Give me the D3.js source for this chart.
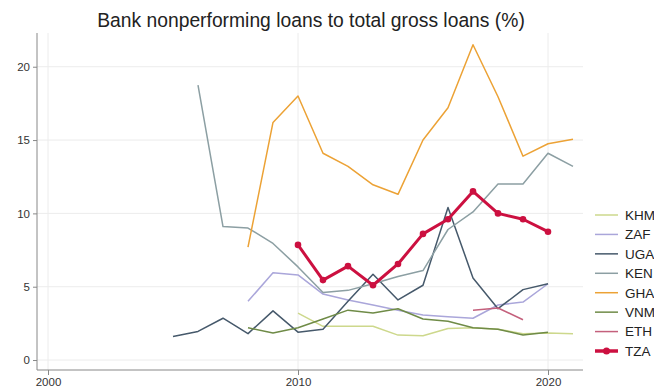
<!DOCTYPE html>
<html>
<head>
<meta charset="utf-8">
<script src="https://cdn.jsdelivr.net/npm/d3@7"></script>
<style>
  html, body { margin: 0; padding: 0; background: #fff; }
  svg { display: block; font-family: "Liberation Sans", Arial, sans-serif; }
</style>
</head>
<body>
<svg id="chart" width="654" height="392"></svg>
<script>
// Nonperforming loans as a share of gross loans, by country and year
const years = [2005, 2006, 2007, 2008, 2009, 2010, 2011, 2012, 2013, 2014, 2015, 2016, 2017, 2018, 2019, 2020, 2021];
const countries = ["KHM", "ZAF", "UGA", "KEN", "GHA", "VNM", "ETH", "TZA"];
const colors = ["#cdd88c", "#aaa6da", "#46596b", "#8c9fa3", "#eca235", "#6f8b47", "#c4607c", "#cc1040"];

// null = no observation for that year
const KHM = [null, null, null, null, null, 3.2, 2.3, 2.3, 2.3, 1.7, 1.65, 2.15, 2.2, 2.1, 1.8, 1.85, 1.8];
const ZAF = [null, null, null, 4.0, 5.95, 5.8, 4.5, 4.1, 3.75, 3.4, 3.07, 2.95, 2.85, 3.75, 3.95, 5.2, null];
const UGA = [1.6, 1.95, 2.85, 1.8, 3.35, 1.9, 2.1, 4.0, 5.85, 4.1, 5.1, 10.4, 5.6, 3.5, 4.8, 5.2, null];
const KEN = [null, 18.75, 9.1, 9.0, 7.95, 6.35, 4.6, 4.75, 5.2, 5.7, 6.1, 8.9, 10.1, 12.0, 12.0, 14.1, 13.2];
const GHA = [null, null, null, 7.7, 16.2, 18.0, 14.1, 13.2, 11.95, 11.3, 15.0, 17.2, 21.5, 17.95, 13.9, 14.75, 15.05];
const VNM = [null, null, null, 2.2, 1.85, 2.2, 2.8, 3.4, 3.2, 3.5, 2.8, 2.65, 2.2, 2.1, 1.7, 1.9, null];
const ETH = [null, null, null, null, null, null, null, null, null, null, null, null, 3.4, 3.55, 2.75, null, null];
const TZA = [null, null, null, null, null, 7.85, 5.45, 6.4, 5.1, 6.55, 8.6, 9.6, 11.5, 10.0, 9.6, 8.75, null];

const yTicks = [0, 5, 10, 15, 20];
const xTicks = [2000, 2010, 2020];
const title = "Bank nonperforming loans to total gross loans (%)";

const seriesValues = [KHM, ZAF, UGA, KEN, GHA, VNM, ETH, TZA];
const series = countries.map((name, i) => ({
  name,
  color: colors[i],
  points: years.map((yr, j) => ({ year: yr, value: seriesValues[i][j] })).filter(d => d.value !== null)
}));

const svg = d3.select("#chart");
const plot = { left: 37, right: 583, top: 33, bottom: 370 };

const x = d3.scaleLinear().domain([1999.56, 2021.4]).range([plot.left, plot.right]);
const y = d3.scaleLinear().domain([-0.68, 22.3]).range([plot.bottom, plot.top]);

// Title
svg.append("text")
  .attr("x", 311).attr("y", 27)
  .attr("text-anchor", "middle")
  .attr("font-size", 19.3)
  .attr("fill", "#222")
  .text(title);

// Grid lines
const grid = svg.append("g");
grid.selectAll("line.h").data(yTicks).join("line")
  .attr("x1", plot.left).attr("x2", plot.right)
  .attr("y1", d => y(d)).attr("y2", d => y(d))
  .attr("stroke", "#ececec").attr("stroke-width", 1);
grid.selectAll("line.v").data(xTicks).join("line")
  .attr("y1", plot.top).attr("y2", plot.bottom)
  .attr("x1", d => x(d)).attr("x2", d => x(d))
  .attr("stroke", "#ececec").attr("stroke-width", 1);

// Axes
const yAxis = svg.append("g")
  .attr("transform", `translate(${plot.left},0)`)
  .call(d3.axisLeft(y).tickValues(yTicks).tickSize(4).tickPadding(3).tickFormat(d3.format("d")));
const xAxis = svg.append("g")
  .attr("transform", `translate(0,${plot.bottom})`)
  .call(d3.axisBottom(x).tickValues(xTicks).tickSize(5).tickPadding(3).tickFormat(d3.format("d")));

[yAxis, xAxis].forEach(g => {
  g.select(".domain").attr("stroke", "#888");
  g.selectAll(".tick line").attr("stroke", "#888");
  g.selectAll(".tick text").attr("fill", "#333").attr("font-size", 11.5)
    .attr("font-family", "\"Liberation Sans\", Arial, sans-serif");
});
yAxis.select(".domain").attr("d", `M0,${plot.top}V${plot.bottom}`);
xAxis.select(".domain").attr("d", `M${plot.left},0H${plot.right}`);

// Lines
const line = d3.line().x(d => x(d.year)).y(d => y(d.value));
const lines = svg.append("g");
series.forEach(s => {
  const thick = s.name === "TZA";
  lines.append("path")
    .datum(s.points)
    .attr("fill", "none")
    .attr("stroke", s.color)
    .attr("stroke-width", thick ? 3 : 1.5)
    .attr("stroke-linejoin", "round")
    .attr("d", line);
  if (thick) {
    lines.selectAll("circle.tza").data(s.points).join("circle")
      .attr("class", "tza")
      .attr("cx", d => x(d.year)).attr("cy", d => y(d.value))
      .attr("r", 3.3).attr("fill", s.color);
  }
});

// Legend (runs past the right edge of the canvas)
const legend = svg.append("g");
const rowY = d3.scalePoint().domain(countries).range([215, 351]);
countries.forEach((name, i) => {
  const g = legend.append("g").attr("transform", `translate(0,${rowY(name)})`);
  const thick = name === "TZA";
  g.append("line")
    .attr("x1", 595).attr("x2", 618)
    .attr("stroke", colors[i]).attr("stroke-width", thick ? 3.5 : 1.5);
  if (thick) g.append("circle").attr("cx", 606.5).attr("r", 3.5).attr("fill", colors[i]);
  g.append("text")
    .attr("x", 625).attr("y", 4.8)
    .attr("font-size", 13.5).attr("fill", "#222")
    .text(name);
});
</script>
</body>
</html>
